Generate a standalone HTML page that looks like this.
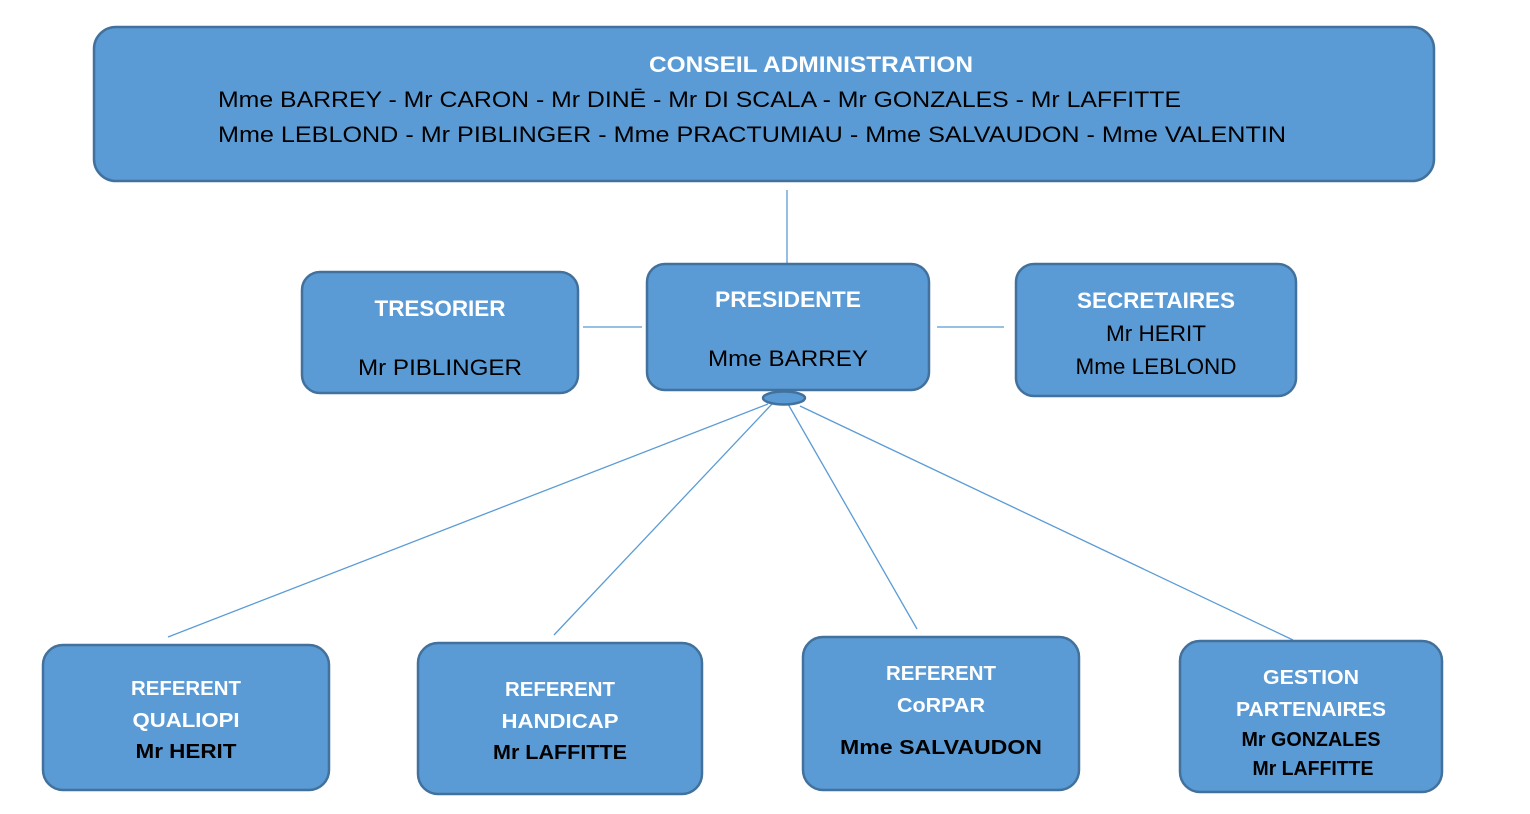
<!DOCTYPE html>
<html><head><meta charset="utf-8"><style>
html,body{margin:0;padding:0;background:#fff;}
svg{display:block;}
text{font-family:"Liberation Sans",sans-serif;}
.t{fill:#fff;font-weight:bold;font-size:22px;}
.n{fill:#000;font-size:22px;}
.b{fill:#fff;font-weight:bold;font-size:20px;}
.k{fill:#000;font-weight:bold;font-size:20px;}
</style></head><body>
<svg width="1530" height="814" viewBox="0 0 1530 814" xmlns="http://www.w3.org/2000/svg">
<g stroke="#5b9bd5" stroke-width="1.3">
<line x1="787" y1="190" x2="787" y2="264"/>
<line x1="583" y1="327" x2="642" y2="327"/>
<line x1="937" y1="327" x2="1004" y2="327"/>
<line x1="768" y1="404" x2="168" y2="637"/>
<line x1="772" y1="404" x2="554" y2="635"/>
<line x1="788" y1="404" x2="917" y2="629"/>
<line x1="800" y1="406" x2="1293" y2="640"/>
</g>
<g fill="#5b9bd5" stroke="#41719c" stroke-width="2.5">
<rect x="94" y="27" width="1340" height="154" rx="22"/>
<rect x="302" y="272" width="276" height="121" rx="18"/>
<rect x="647" y="264" width="282" height="126" rx="18"/>
<rect x="1016" y="264" width="280" height="132" rx="18"/>
<rect x="43" y="645" width="286" height="145" rx="20"/>
<rect x="418" y="643" width="284" height="151" rx="20"/>
<rect x="803" y="637" width="276" height="153" rx="20"/>
<rect x="1180" y="641" width="262" height="151" rx="20"/>
<ellipse cx="784" cy="398" rx="21" ry="6.5"/>
</g>
<text class="t" x="811" y="72" text-anchor="middle" textLength="324" lengthAdjust="spacingAndGlyphs">CONSEIL ADMINISTRATION</text>
<text class="n" x="218" y="107" textLength="963" lengthAdjust="spacingAndGlyphs">Mme BARREY - Mr CARON - Mr DINĒ - Mr DI SCALA  - Mr GONZALES - Mr LAFFITTE</text>
<text class="n" x="218" y="142" textLength="1068" lengthAdjust="spacingAndGlyphs">Mme LEBLOND - Mr PIBLINGER - Mme PRACTUMIAU - Mme SALVAUDON - Mme VALENTIN</text>

<text class="t" x="440" y="316" text-anchor="middle" textLength="131" lengthAdjust="spacingAndGlyphs">TRESORIER</text>
<text class="n" x="440" y="375" text-anchor="middle" textLength="164" lengthAdjust="spacingAndGlyphs">Mr PIBLINGER</text>

<text class="t" x="788" y="307" text-anchor="middle" textLength="146" lengthAdjust="spacingAndGlyphs">PRESIDENTE</text>
<text class="n" x="788" y="366" text-anchor="middle" textLength="160" lengthAdjust="spacingAndGlyphs">Mme BARREY</text>

<text class="t" x="1156" y="308" text-anchor="middle" textLength="158" lengthAdjust="spacingAndGlyphs">SECRETAIRES</text>
<text class="n" x="1156" y="341" text-anchor="middle" textLength="100" lengthAdjust="spacingAndGlyphs">Mr HERIT</text>
<text class="n" x="1156" y="374" text-anchor="middle" textLength="161" lengthAdjust="spacingAndGlyphs">Mme LEBLOND</text>

<text class="b" x="186" y="695" text-anchor="middle" textLength="110" lengthAdjust="spacingAndGlyphs">REFERENT</text>
<text class="b" x="186" y="727" text-anchor="middle" textLength="107" lengthAdjust="spacingAndGlyphs">QUALIOPI</text>
<text class="k" x="186" y="758" text-anchor="middle" textLength="101" lengthAdjust="spacingAndGlyphs">Mr HERIT</text>

<text class="b" x="560" y="696" text-anchor="middle" textLength="110" lengthAdjust="spacingAndGlyphs">REFERENT</text>
<text class="b" x="560" y="728" text-anchor="middle" textLength="117" lengthAdjust="spacingAndGlyphs">HANDICAP</text>
<text class="k" x="560" y="759" text-anchor="middle" textLength="134" lengthAdjust="spacingAndGlyphs">Mr LAFFITTE</text>

<text class="b" x="941" y="680" text-anchor="middle" textLength="110" lengthAdjust="spacingAndGlyphs">REFERENT</text>
<text class="b" x="941" y="712" text-anchor="middle" textLength="88" lengthAdjust="spacingAndGlyphs">CoRPAR</text>
<text class="k" x="941" y="754" text-anchor="middle" textLength="202" lengthAdjust="spacingAndGlyphs">Mme SALVAUDON</text>

<text class="b" x="1311" y="684" text-anchor="middle" textLength="96" lengthAdjust="spacingAndGlyphs">GESTION</text>
<text class="b" x="1311" y="716" text-anchor="middle" textLength="150" lengthAdjust="spacingAndGlyphs">PARTENAIRES</text>
<text class="k" x="1311" y="746" text-anchor="middle" textLength="139" lengthAdjust="spacingAndGlyphs">Mr GONZALES</text>
<text class="k" x="1313" y="775" text-anchor="middle" textLength="121" lengthAdjust="spacingAndGlyphs">Mr LAFFITTE</text>
</svg>
</body></html>
